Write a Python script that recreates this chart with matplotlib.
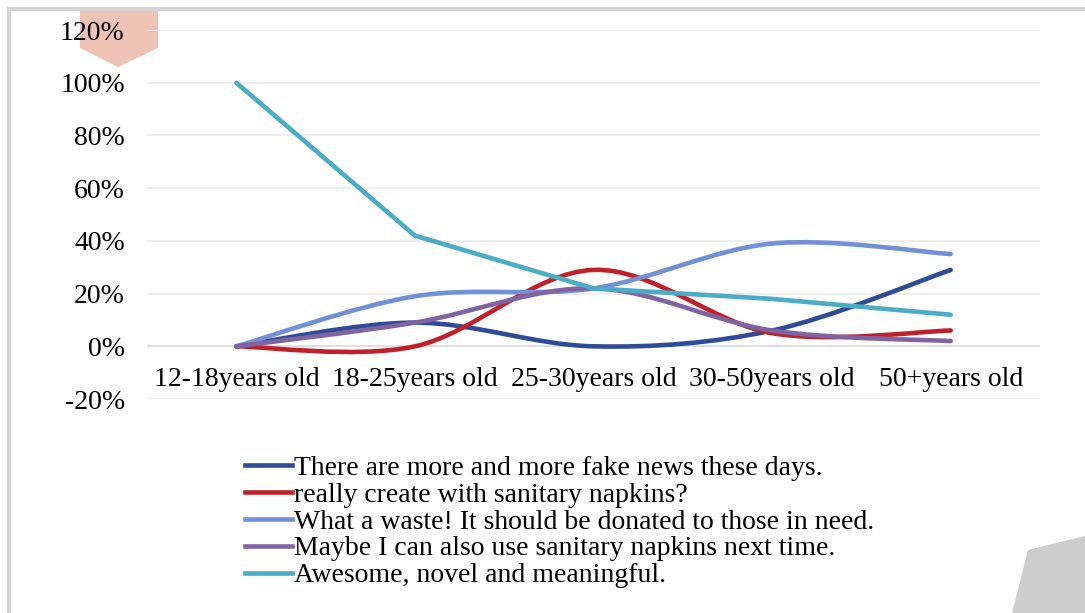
import matplotlib
matplotlib.use("Agg")
import matplotlib.pyplot as plt
import numpy as np
from matplotlib.path import Path
from matplotlib.patches import PathPatch, Polygon
from matplotlib.lines import Line2D

categories = ["12-18years old", "18-25years old", "25-30years old", "30-50years old", "50+years old"]
series_names = [
    "There are more and more fake news these days.",
    "really create with sanitary napkins?",
    "What a waste! It should be donated to those in need.",
    "Maybe I can also use sanitary napkins next time.",
    "Awesome, novel and meaningful.",
]
fake_news = [0, 9, 0, 6, 29]
really_create = [0, 0, 29, 5, 6]
what_a_waste = [0, 19, 22, 39, 35]
maybe_use = [0, 9, 22, 6, 2]
awesome = [100, 42, 22, 18, 12]
yticks = [-20, 0, 20, 40, 60, 80, 100, 120]

colors = ["#2F4A96", "#C0202A", "#7190D6", "#8064A2", "#4BACC6"]
smooth = [True, True, True, True, False]


def smooth_path(xs, ys):
    # Excel-like smoothed line: cubic Bezier with Catmull-Rom style handles
    p = np.column_stack([xs, ys]).astype(float)
    n = len(p)
    verts = [p[0]]
    codes = [Path.MOVETO]
    for i in range(n - 1):
        prev = p[max(i - 1, 0)]
        nxt = p[min(i + 2, n - 1)]
        c1 = p[i] + (p[i + 1] - prev) / 6.0
        c2 = p[i + 1] - (nxt - p[i]) / 6.0
        verts += [c1, c2, p[i + 1]]
        codes += [Path.CURVE4] * 3
    return Path(verts, codes)


plt.rcParams["font.family"] = ["Liberation Serif", "DejaVu Serif"]
FS = 20

fig = plt.figure(figsize=(10.85, 6.13), dpi=100)
ax = fig.add_axes([0.1355, 0.349, 0.823, 0.602])
ax.patch.set_alpha(0)

x = np.arange(len(categories))
data = [fake_news, really_create, what_a_waste, maybe_use, awesome]
for vals, color, name, sm in zip(data, colors, series_names, smooth):
    if sm:
        ax.add_patch(PathPatch(smooth_path(x, vals), fill=False, edgecolor=color,
                               lw=3.3, capstyle="round", joinstyle="round", zorder=3))
    else:
        ax.plot(x, vals, color=color, lw=3.3, solid_capstyle="round", zorder=3)

ax.set_xlim(-0.5, len(categories) - 0.5)
ax.set_ylim(-20, 120)
ax.set_yticks(yticks)
ax.set_yticklabels([f"{v}%" for v in yticks], fontsize=FS)
ax.tick_params(axis="y", length=0, pad=16)
ax.set_xticks([])
for s in ax.spines.values():
    s.set_visible(False)
for v in yticks:
    ax.axhline(v, color="#D9D9D9" if v == 0 else "#EBEBEB", lw=1.2, zorder=1)
for xi, lab in zip(x, categories):
    ax.text(xi, -12.5, lab, ha="center", va="center", fontsize=FS)

handles = [Line2D([], [], color=c, lw=3.3) for c in colors]
fig.legend(handles, series_names, loc="upper left", bbox_to_anchor=(0.226, 0.257),
           frameon=False, fontsize=FS, labelspacing=0.05, handlelength=1.7,
           handletextpad=0.05, borderpad=0, borderaxespad=0)

# decorative frame and shapes
W, H = 1085, 613
fig.add_artist(Line2D([9 / W, 9 / W], [0, 1 - 9 / H], color="#D3D3D3", lw=3, transform=fig.transFigure))
fig.add_artist(Line2D([9 / W, 1], [1 - 9 / H, 1 - 9 / H], color="#D3D3D3", lw=3, transform=fig.transFigure))
pent = [(80, 10), (158, 10), (158, 48), (118, 67), (80, 48)]
fig.add_artist(Polygon([(a / W, 1 - b / H) for a, b in pent], closed=True,
                       facecolor="#EEC3B5", edgecolor="none", transform=fig.transFigure, zorder=0))
tri = [(1028, 550), (1085, 536), (1085, 613), (1012, 613)]
fig.add_artist(Polygon([(a / W, 1 - b / H) for a, b in tri], closed=True,
                       facecolor="#CDCDCD", edgecolor="none", transform=fig.transFigure, zorder=0))

fig.savefig("out.png", dpi=100)
